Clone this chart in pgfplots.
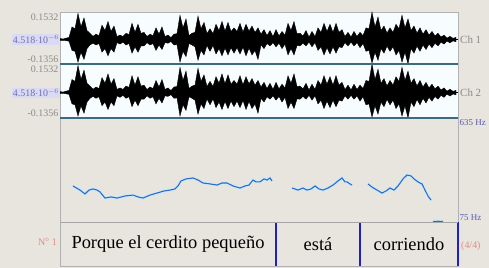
\documentclass[border=0pt]{standalone}
\usepackage{pgfplots}
\pgfplotsset{compat=1.18}
\usepackage{pgfplotstable}
\usepackage{fontspec}
\setmainfont{Liberation Serif}
\definecolor{bg}{HTML}{E7E5DD}
\definecolor{sep}{HTML}{3E6A7E}
\definecolor{pitch}{HTML}{2A6CC8}
\definecolor{pshadow}{HTML}{CFE9FA}
\definecolor{hz}{HTML}{5A5AB4}
\definecolor{bnd}{HTML}{2020C8}
\definecolor{lav}{HTML}{DADAF2}
\definecolor{lbl}{HTML}{6E6EB8}
\definecolor{pinkl}{HTML}{E08C8C}
\definecolor{grl}{HTML}{8A8A8A}

\pgfplotstableread{
x up lo
0 0.006 -0.005
3 0.003 -0.004
6 0.008 -0.006
9 0.012 -0.009
12 0.07 -0.06
15 0.06 -0.065
18 0.145 -0.125
21 0.07 -0.07
24 0.12 -0.11
27 0.05 -0.05
30 0.035 -0.03
33 0.018 -0.02
36 0.03 -0.03
39 0.022 -0.022
42 0.08 -0.07
45 0.05 -0.05
48 0.1 -0.09
51 0.045 -0.05
54 0.075 -0.07
57 0.017 -0.017
60 0.025 -0.025
63 0.017 -0.014
66 0.035 -0.03
69 0.028 -0.022
72 0.09 -0.075
75 0.04 -0.04
78 0.085 -0.07
81 0.035 -0.035
84 0.04 -0.035
87 0.017 -0.017
90 0.03 -0.03
93 0.022 -0.022
96 0.065 -0.06
99 0.03 -0.03
102 0.07 -0.055
105 0.017 -0.017
108 0.025 -0.02
111 0.011 -0.011
114 0.03 -0.03
117 0.033 -0.028
120 0.135 -0.125
123 0.065 -0.065
126 0.115 -0.095
129 0.022 -0.022
132 0.035 -0.03
135 0.04 -0.04
138 0.13 -0.115
141 0.06 -0.06
144 0.095 -0.085
147 0.033 -0.033
150 0.06 -0.065
153 0.033 -0.033
156 0.085 -0.08
159 0.05 -0.05
162 0.1 -0.09
165 0.047 -0.047
168 0.095 -0.085
171 0.045 -0.045
174 0.065 -0.075
177 0.045 -0.045
180 0.09 -0.08
183 0.042 -0.042
186 0.085 -0.09
189 0.047 -0.047
192 0.075 -0.085
195 0.04 -0.06
198 0.065 -0.11
201 0.03 -0.03
204 0.055 -0.05
207 0.022 -0.022
210 0.05 -0.035
213 0.017 -0.017
216 0.055 -0.04
219 0.02 -0.02
222 0.045 -0.05
225 0.025 -0.025
228 0.09 -0.085
231 0.05 -0.05
234 0.1 -0.085
237 0.033 -0.033
240 0.035 -0.035
243 0.02 -0.02
246 0.05 -0.035
249 0.014 -0.014
252 0.045 -0.04
255 0.017 -0.017
258 0.065 -0.06
261 0.04 -0.04
264 0.09 -0.085
267 0.045 -0.045
270 0.085 -0.08
273 0.04 -0.04
276 0.09 -0.075
279 0.04 -0.04
282 0.055 -0.045
285 0.017 -0.017
288 0.04 -0.035
291 0.014 -0.014
294 0.045 -0.035
297 0.017 -0.017
300 0.04 -0.045
303 0.022 -0.022
306 0.065 -0.065
309 0.06 -0.06
312 0.152 -0.13
315 0.07 -0.07
318 0.125 -0.115
321 0.05 -0.05
324 0.075 -0.075
327 0.036 -0.036
330 0.065 -0.065
333 0.04 -0.04
336 0.085 -0.085
339 0.06 -0.06
342 0.135 -0.125
345 0.065 -0.07
348 0.115 -0.135
351 0.05 -0.05
354 0.075 -0.075
357 0.036 -0.036
360 0.065 -0.065
363 0.03 -0.03
366 0.055 -0.055
369 0.025 -0.025
372 0.045 -0.045
375 0.02 -0.02
378 0.035 -0.035
381 0.014 -0.014
384 0.025 -0.025
387 0.008 -0.008
390 0.018 -0.018
393 0.007 -0.007
396 0.012 -0.012
}\wave

\pgfplotstableread{
x hz
13 269
20 247
25 226
29 247
33 253
37 247
40 237
45 204
51 210
57 204
65 215
73 220
78 210
83 204
90 220
97 231
104 242
110 247
115 253
118 269
121 296
126 307
133 312
138 301
143 285
150 280
157 274
162 285
167 285
173 269
180 258
185 269
189 274
193 301
196 291
200 291
204 307
207 301
210 312
212 296
}\pitchA

\pgfplotstableread{
x hz
232 258
235 253
238 247
243 258
247 247
251 253
255 269
259 253
263 247
268 258
273 274
278 296
282 312
285 291
287 291
290 280
292 274
}\pitchB

\pgfplotstableread{
x hz
308 280
312 263
317 247
322 231
326 242
330 258
334 247
338 269
343 307
347 328
351 323
354 307
358 291
362 280
365 247
368 215
371 193
}\pitchC

\pgfplotstableread{
x hz
373 78
378 79
383 78
}\pitchD

\pgfplotsset{
  panel/.style={scale only axis, width=398bp, xmin=0, xmax=398,
    xtick=\empty, ytick=\empty, clip=false,
    axis line style={draw=gray!60, line width=0.5pt}},
  wavepanel/.style={panel, height=52bp, ymin=-0.1356, ymax=0.1532,
    axis background/.style={fill=cyan!3}},
}
\newcommand{\lblfont}{\fontsize{10}{11}\selectfont}

\begin{document}
\begin{tikzpicture}
\fill[bg] (0,0) rectangle (489bp,-268bp);

% Channel 1
\begin{axis}[wavepanel, at={(60bp,-12bp)}, anchor=north west]
\addplot[draw=black, fill=black, line width=0.4pt] table[x=x,y=up]{\wave} \closedcycle;
\addplot[draw=black, fill=black, line width=0.4pt] table[x=x,y=lo]{\wave} \closedcycle;
\addplot[black, line width=0.8pt] coordinates {(0,0) (398,0)};
\node[anchor=north east, text=grl, inner sep=1.5pt, font=\lblfont] at (rel axis cs:0,1) {0.1532};
\node[anchor=east, text=lbl, fill=lav, inner sep=1pt, font=\lblfont] at (axis cs:0,0) {4.518$\cdot$10$^{-6}$};
\node[anchor=south east, text=grl, inner sep=1.5pt, font=\lblfont] at (rel axis cs:0,0) {-0.1356};
\node[anchor=west, text=grl, inner sep=2pt, font=\fontsize{11}{12}\selectfont] at (axis cs:398,0) {Ch 1};
\end{axis}

% Channel 2
\begin{axis}[wavepanel, at={(60bp,-64bp)}, anchor=north west, height=54bp]
\addplot[draw=black, fill=black, line width=0.4pt] table[x=x,y=up]{\wave} \closedcycle;
\addplot[draw=black, fill=black, line width=0.4pt] table[x=x,y=lo]{\wave} \closedcycle;
\addplot[black, line width=0.8pt] coordinates {(0,0) (398,0)};
\node[anchor=north east, text=grl, inner sep=1.5pt, font=\lblfont] at (rel axis cs:0,1) {0.1532};
\node[anchor=east, text=lbl, fill=lav, inner sep=1pt, font=\lblfont] at (axis cs:0,0) {4.518$\cdot$10$^{-6}$};
\node[anchor=south east, text=grl, inner sep=1.5pt, font=\lblfont] at (rel axis cs:0,0) {-0.1356};
\node[anchor=west, text=grl, inner sep=2pt, font=\fontsize{11}{12}\selectfont] at (axis cs:398,0) {Ch 2};
\end{axis}

% Pitch
\begin{axis}[panel, at={(60bp,-118bp)}, anchor=north west, height=104bp, ymin=75, ymax=635]
\addplot[pshadow, line width=3pt] table[x=x,y=hz]{\pitchA};
\addplot[pshadow, line width=3pt] table[x=x,y=hz]{\pitchB};
\addplot[pshadow, line width=3pt] table[x=x,y=hz]{\pitchC};
\addplot[pshadow, line width=3pt] table[x=x,y=hz]{\pitchD};
\addplot[pitch, line width=1.1pt] table[x=x,y=hz]{\pitchA};
\addplot[pitch, line width=1.1pt] table[x=x,y=hz]{\pitchB};
\addplot[pitch, line width=1.1pt] table[x=x,y=hz]{\pitchC};
\addplot[pitch, line width=1.1pt] table[x=x,y=hz]{\pitchD};
\node[anchor=north west, text=hz, inner sep=1.5pt, font=\fontsize{9}{10}\selectfont] at (rel axis cs:1,1) {635 Hz};
\node[anchor=south west, text=hz, inner sep=1.5pt, font=\fontsize{9}{10}\selectfont] at (rel axis cs:1,0) {75 Hz};
\end{axis}

% Text tier
\begin{axis}[panel, at={(60bp,-222bp)}, anchor=north west, height=44bp, ymin=0, ymax=1]
\addplot[bnd, line width=2.5pt] coordinates {(216,0) (216,1)};
\addplot[bnd, line width=2.5pt] coordinates {(300,0) (300,1)};
\addplot[bnd, line width=2.5pt] coordinates {(398,0) (398,1)};
\node[font=\fontsize{18.5}{20}\selectfont] at (axis cs:108,0.5) {Porque el cerdito pequeño};
\node[font=\fontsize{18.5}{20}\selectfont] at (axis cs:258,0.5) {está};
\node[font=\fontsize{18.5}{20}\selectfont] at (axis cs:349,0.5) {corriendo};
\node[anchor=east, text=pinkl, inner sep=3pt, font=\lblfont] at (rel axis cs:0,0.55) {N\textsuperscript{o} 1};
\node[anchor=west, text=pinkl, inner sep=3pt, font=\lblfont] at (rel axis cs:1,0.45) {(4/4)};
\end{axis}

% separators
\draw[sep, line width=1.2pt] (60bp,-64bp) -- (458bp,-64bp);
\draw[sep, line width=1.2pt] (60bp,-118bp) -- (458bp,-118bp);
\draw[gray!70, line width=0.8pt] (60bp,-222bp) -- (458bp,-222bp);

\pgfresetboundingbox
\useasboundingbox (0,0) rectangle (489bp,-268bp);
\end{tikzpicture}
\end{document}
